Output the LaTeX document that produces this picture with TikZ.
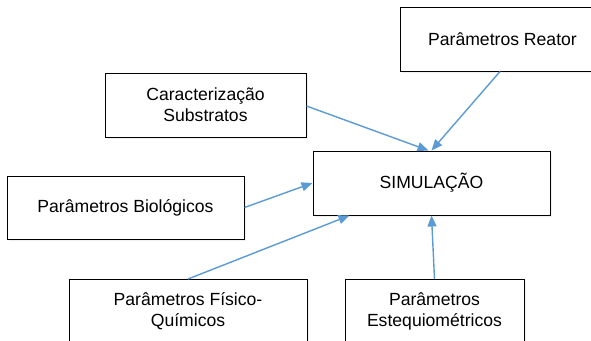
\documentclass[tikz,border=0pt]{standalone}
\usepackage{fontspec}
\setmainfont{Liberation Sans}
\usetikzlibrary{arrows.meta,shadows}
\definecolor{arrowblue}{HTML}{5B9BD5}
\tikzset{
  box/.style={draw=black, line width=1pt, fill=white, align=center,
    font=\fontsize{17.6}{20.8}\selectfont, inner sep=0pt,
    drop shadow={opacity=0.12, shadow xshift=1.5pt, shadow yshift=-1.5pt}},
  conn/.style={draw=arrowblue, line width=1.4pt, -{Triangle[length=11pt,width=9pt]}}
}
\begin{document}
\begin{tikzpicture}[x=1pt,y=-1pt]
\useasboundingbox (0,0) rectangle (591,340);
\clip (0,0) rectangle (591,340);
\node[box, minimum width=205pt, minimum height=64pt] (reator) at (502.5,39) {Parâmetros Reator};
\node[box, minimum width=201pt, minimum height=64pt] (carac) at (205.5,105) {Caracterização\\Substratos};
\node[box, minimum width=237pt, minimum height=63pt] (bio) at (125.5,207.5) {Parâmetros Biológicos};
\node[box, minimum width=237pt, minimum height=64pt] (sim) at (431.5,183) {SIMULAÇÃO};
\node[box, minimum width=238pt, minimum height=64pt] (fis) at (188,311.5) {Parâmetros Físico-\\Químicos};
\node[box, minimum width=179pt, minimum height=64pt] (est) at (434.5,311.5) {Parâmetros\\Estequiométricos};
\draw[conn] ([xshift=-2.5pt]reator.south) -- (sim.north);
\draw[conn] ([yshift=-1pt]carac.east) -- ([xshift=-3pt]sim.north);
\draw[conn] (bio.east) -- (sim.west);
\draw[conn] (fis.north) -- ([xshift=37pt]sim.south west);
\draw[conn] (est.north) -- (sim.south);
\end{tikzpicture}
\end{document}
